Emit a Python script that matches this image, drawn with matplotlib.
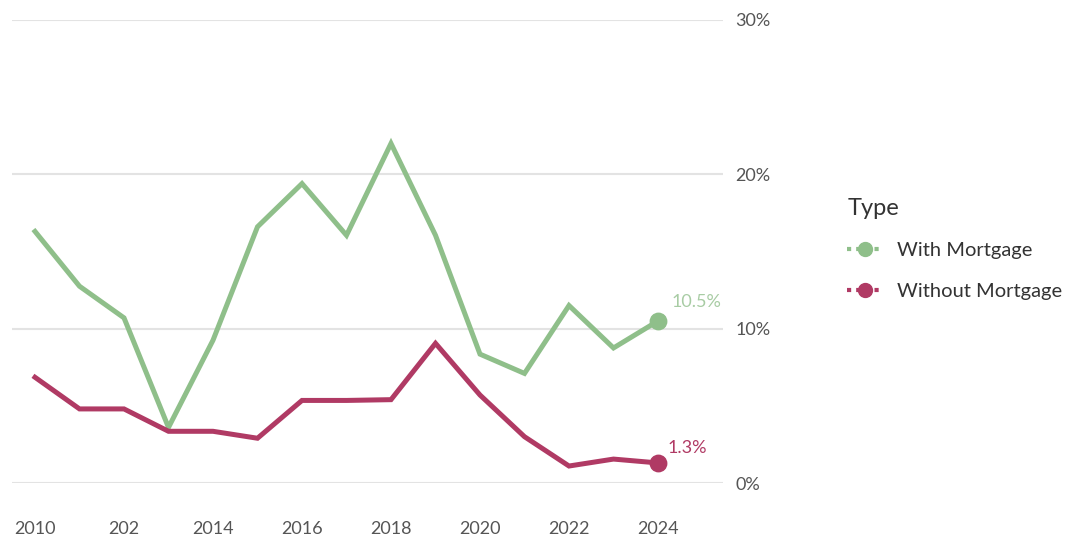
import matplotlib
matplotlib.use("Agg")
import matplotlib.pyplot as plt
from matplotlib.lines import Line2D

plt.rcParams['font.family'] = ['Lato', 'DejaVu Sans']

years = list(range(2010, 2025))
with_mortgage = [16.3, 12.75, 10.7, 3.6, 9.25, 16.6, 19.4, 16.05, 22.0, 16.05,
                 8.35, 7.1, 11.5, 8.75, 10.5]
without_mortgage = [6.85, 4.8, 4.8, 3.35, 3.35, 2.9, 5.35, 5.35, 5.4, 9.05,
                    5.7, 3.0, 1.1, 1.55, 1.3]

x_ticks = [2010, 2012, 2014, 2016, 2018, 2020, 2022, 2024]
x_tick_labels = ['2010', '202', '2014', '2016', '2018', '2020', '2022', '2024']
y_ticks = [0, 10, 20, 30]
y_tick_labels = ['0%', '10%', '20%', '30%']

green = '#8fbf8a'
green_text = '#a8cca4'
red = '#b03a64'

fig = plt.figure(figsize=(10.88, 5.37), dpi=100)
ax = fig.add_axes([12 / 1088, 1 - 483 / 537, (723 - 12) / 1088, (483 - 20) / 537])

ax.plot(years, with_mortgage, color=green, lw=3.6, solid_joinstyle='miter', zorder=3)
ax.plot(years, without_mortgage, color=red, lw=3.6, solid_joinstyle='miter', zorder=3)
ax.scatter([years[-1]], [with_mortgage[-1]], s=140, color=green, zorder=4)
ax.scatter([years[-1]], [without_mortgage[-1]], s=140, color=red, zorder=4)

ax.annotate(f'{with_mortgage[-1]}%', (years[-1], with_mortgage[-1]),
            xytext=(10, 8), textcoords='offset points', color=green_text,
            fontsize=13, ha='left', va='bottom')
ax.annotate(f'{without_mortgage[-1]}%', (years[-1], without_mortgage[-1]),
            xytext=(7, 5), textcoords='offset points', color=red,
            fontsize=13, ha='left', va='bottom')

ax.set_xlim(2010 - 23 / 44.5, 2024 + 65 / 44.5)
ax.set_ylim(0, 30)
ax.set_xticks(x_ticks)
ax.set_xticklabels(x_tick_labels)
ax.set_yticks(y_ticks)
ax.set_yticklabels(y_tick_labels)
ax.yaxis.tick_right()
ax.tick_params(axis='both', length=0, labelsize=13, labelcolor='#555555')
ax.tick_params(axis='x', pad=27)
ax.tick_params(axis='y', pad=9)
ax.grid(axis='y', color='#e3e3e3', lw=1.5)
ax.set_axisbelow(True)
for s in ax.spines.values():
    s.set_visible(False)

# legend: dotted stub with a dot, like the line-with-end-marker style
handles = [
    Line2D([0], [0], color=green, lw=3, ls=(0, (1, 1.2)), marker='o', ms=10),
    Line2D([0], [0], color=red, lw=3, ls=(0, (1, 1.2)), marker='o', ms=10),
]
leg = ax.legend(handles, ['With Mortgage', 'Without Mortgage'], title='Type',
                loc='upper left', bbox_to_anchor=(829 / 1088, 1 - 180 / 537),
                bbox_transform=fig.transFigure, frameon=False, fontsize=14.5,
                title_fontsize=17, alignment='left', handlelength=1.8,
                labelspacing=1.15, handletextpad=0.7)
for t in leg.get_texts():
    t.set_color('#333333')
leg.get_title().set_color('#333333')

fig.savefig('out.png', dpi=100)
